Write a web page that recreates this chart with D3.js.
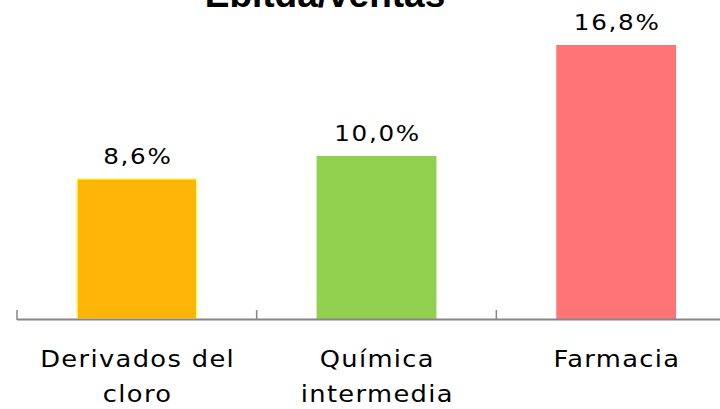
<!DOCTYPE html>
<html>
<head>
<meta charset="utf-8">
<script src="https://cdnjs.cloudflare.com/ajax/libs/d3/7.8.5/d3.min.js"></script>
<style>
  body { margin: 0; background: #fff; }
  svg { display: block; }
</style>
</head>
<body>
<div id="chart"></div>
<script>
// chart data
const categories = [['Derivados del', 'cloro'], ['Química', 'intermedia'], ['Farmacia']];
const values = [8.6, 10.0, 16.8];
const valueLabels = ['8,6%', '10,0%', '16,8%'];
const colors = ['#FFB508', '#92D050', '#FF7575'];

const width = 720, height = 409;
const svg = d3.select('#chart').append('svg')
  .attr('width', width).attr('height', height);

const x = d3.scaleBand()
  .domain(d3.range(values.length))
  .range([17, 736])
  .paddingInner(0)
  .paddingOuter(0);

const y = d3.scaleLinear()
  .domain([0, 16.8])
  .range([319, 45]);

const bw = x.bandwidth() * 0.5;
const labelFont = 'DejaVu Sans, Verdana, sans-serif';
const sx = 1.12; // labels in the original are a bit wider than DejaVu

// bars
svg.selectAll('rect.bar')
  .data(values)
  .join('rect')
  .attr('class', 'bar')
  .attr('x', (d, i) => x(i) + (x.bandwidth() - bw) / 2)
  .attr('y', d => y(d))
  .attr('width', bw)
  .attr('height', d => y(0) - y(d))
  .attr('fill', (d, i) => colors[i])
  .attr('stroke', (d, i) => i === 0 ? '#FFFF80' : 'none')
  .attr('stroke-width', 1.5);

// value labels
svg.selectAll('text.val')
  .data(values)
  .join('text')
  .attr('class', 'val')
  .attr('transform', (d, i) => `translate(${x(i) + x.bandwidth() / 2 + 1},${y(d) - 15}) scale(${sx},1)`)
  .attr('text-anchor', 'middle')
  .attr('font-family', labelFont)
  .attr('font-size', 22)
  .attr('letter-spacing', 1.5)
  .attr('fill', '#000')
  .text((d, i) => valueLabels[i]);

// axis
const axisG = svg.append('g');
axisG.append('line')
  .attr('x1', 17).attr('x2', 720)
  .attr('y1', 319.5).attr('y2', 319.5)
  .attr('stroke', '#868686').attr('stroke-width', 2);

axisG.selectAll('line.tick')
  .data(d3.range(values.length))
  .join('line')
  .attr('class', 'tick')
  .attr('x1', i => x(i)).attr('x2', i => x(i))
  .attr('y1', 310).attr('y2', 320)
  .attr('stroke', '#868686').attr('stroke-width', 1.5);

// category labels
const cat = svg.selectAll('text.cat')
  .data(categories)
  .join('text')
  .attr('class', 'cat')
  .attr('transform', (d, i) => `translate(${x(i) + x.bandwidth() / 2 + 0.8},367) scale(${sx},1)`)
  .attr('text-anchor', 'middle')
  .attr('font-family', labelFont)
  .attr('font-size', 23)
  .attr('letter-spacing', 1.2)
  .attr('fill', '#000');

cat.each(function(lines) {
  d3.select(this).selectAll('tspan')
    .data(lines)
    .join('tspan')
    .attr('x', 0)
    .attr('y', (l, j) => j * 35)
    .text(l => l);
});

// title, partly cut off at the top
svg.append('text')
  .attr('x', 325)
  .attr('y', 7)
  .attr('text-anchor', 'middle')
  .attr('font-family', 'Liberation Sans, Arial, sans-serif')
  .attr('font-weight', 'bold')
  .attr('font-size', 37)
  .text('Ebitda/ventas');
</script>
</body>
</html>
